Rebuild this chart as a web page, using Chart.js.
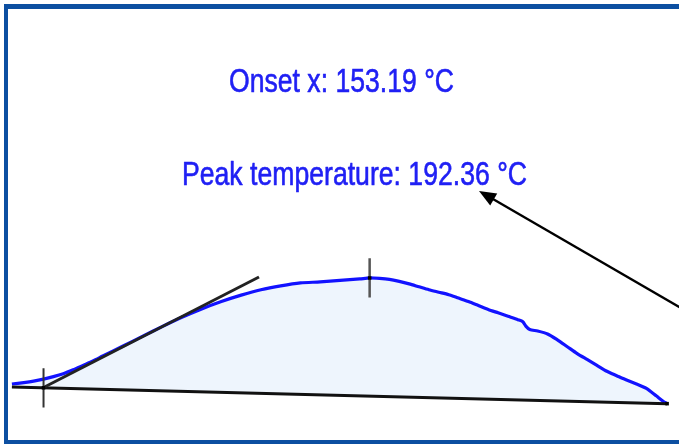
<!DOCTYPE html>
<html>
<head>
<meta charset="utf-8">
<script src="https://cdn.jsdelivr.net/npm/chart.js@4/dist/chart.umd.min.js"></script>
<style>
  html, body { margin: 0; padding: 0; background: #ffffff; overflow: hidden; }
  #dsc { display: block; }
</style>
</head>
<body>
<canvas id="dsc" width="679" height="444"></canvas>
<script>
// DSC melting endotherm: temperature (°C) vs heat flow (mW)
const temperature = [149.39, 150.82, 152.00, 153.19, 154.38, 155.56, 156.75, 157.94, 159.13, 160.31,
  162.69, 165.06, 167.43, 169.81, 172.18, 174.55, 176.93, 179.30, 181.68, 184.05,
  186.43, 188.80, 191.17, 192.36, 193.55, 194.73, 195.92, 197.11, 198.29, 199.48,
  200.67, 201.86, 203.04, 204.23, 205.42, 206.60, 207.79, 208.98, 210.17, 210.76,
  211.12, 211.59, 212.54, 213.73, 214.91, 216.10, 217.29, 218.47, 219.66, 220.85,
  222.03, 223.22, 224.41, 225.60, 226.78, 227.61, 228.09];
const heatFlow = [0.570, 0.585, 0.600, 0.620, 0.645, 0.675, 0.715, 0.760, 0.805, 0.855,
  0.955, 1.055, 1.155, 1.250, 1.335, 1.410, 1.475, 1.530, 1.570, 1.600,
  1.610, 1.625, 1.640, 1.650, 1.645, 1.635, 1.615, 1.590, 1.560, 1.530,
  1.505, 1.480, 1.445, 1.410, 1.370, 1.330, 1.295, 1.260, 1.225, 1.205,
  1.160, 1.125, 1.110, 1.080, 1.020, 0.950, 0.880, 0.820, 0.760, 0.700,
  0.655, 0.610, 0.570, 0.525, 0.450, 0.395, 0.370];

// integration baseline end points
const baselineT = [149.39, 228.09];
const baselineHF = [0.540, 0.370];

// evaluated results
const onsetT = 153.19;
const peakT = 192.36;
const peakHF = 1.650;

// onset tangent (inflection tangent on the leading edge)
const tangentT = [153.19, 179.07];
const tangentHF = [0.535, 1.660];

// axis ranges
const tRange = [148.442, 229.037];
const hfRange = [0, 4.44];

const labels = ['Onset x: ' + onsetT.toFixed(2) + ' °C', 'Peak temperature: ' + peakT.toFixed(2) + ' °C'];

const zip = (xs, ys) => xs.map((x, i) => ({ x: x, y: ys[i] }));
const baseAt = t => baselineHF[0] + (t - baselineT[0]) / (baselineT[1] - baselineT[0]) * (baselineHF[1] - baselineHF[0]);
const onsetHF = baseAt(onsetT);

// panel frame: open on the right-hand side
const panelFrame = {
  id: 'panelFrame',
  afterDraw(chart) {
    const ctx = chart.ctx;
    const W = chart.width, H = chart.height;
    ctx.save();
    ctx.fillStyle = '#0c4fa1';
    ctx.fillRect(4, 4, W - 4, 5);      // top
    ctx.fillRect(4, 4, 4, H - 4);      // left
    ctx.fillRect(4, H - 4, W - 4, 4);  // bottom
    ctx.restore();
  }
};

const annotations = {
  id: 'dscAnnotations',
  afterDatasetsDraw(chart) {
    const ctx = chart.ctx;
    ctx.save();
    ctx.fillStyle = '#2020f4';
    ctx.strokeStyle = '#2020f4';
    ctx.lineWidth = 0.6;
    ctx.lineJoin = 'round';
    ctx.textAlign = 'left';
    ctx.textBaseline = 'alphabetic';
    ctx.font = '33px "Liberation Sans", Arial, sans-serif';
    const texts = [
      { s: labels[0], left: 229, right: 454, base: 91.5 },
      { s: labels[1], left: 182, right: 527, base: 185 }
    ];
    texts.forEach(t => {
      const w = ctx.measureText(t.s).width;
      ctx.save();
      ctx.translate(t.left, t.base);
      ctx.scale((t.right - t.left) / w, 1);
      ctx.fillText(t.s, 0, 0);
      ctx.strokeText(t.s, 0, 0);
      ctx.restore();
    });

    // arrow pointing at the peak temperature label
    const tip = { x: 479, y: 191 };
    const tail = { x: 700, y: 319 };
    const ang = Math.atan2(tail.y - tip.y, tail.x - tip.x);
    const headLen = 17, headHalf = 7;
    ctx.strokeStyle = '#000000';
    ctx.lineWidth = 2.4;
    ctx.beginPath();
    ctx.moveTo(tail.x, tail.y);
    ctx.lineTo(tip.x + Math.cos(ang) * headLen * 0.8, tip.y + Math.sin(ang) * headLen * 0.8);
    ctx.stroke();
    const bx = tip.x + Math.cos(ang) * headLen, by = tip.y + Math.sin(ang) * headLen;
    ctx.fillStyle = '#000000';
    ctx.beginPath();
    ctx.moveTo(tip.x, tip.y);
    ctx.lineTo(bx - Math.sin(ang) * headHalf, by + Math.cos(ang) * headHalf);
    ctx.lineTo(bx + Math.sin(ang) * headHalf, by - Math.cos(ang) * headHalf);
    ctx.closePath();
    ctx.fill();
    ctx.restore();
  }
};

new Chart(document.getElementById('dsc'), {
  type: 'line',
  data: {
    datasets: [
      {
        label: 'Heat flow',
        data: zip(temperature, heatFlow),
        borderColor: '#1212ff',
        borderWidth: 3.2,
        pointRadius: 0,
        tension: 0.25,
        fill: { target: 1 },
        backgroundColor: '#eef5fd',
        order: 5
      },
      {
        label: 'Baseline',
        data: zip(baselineT, baselineHF),
        borderColor: '#111111',
        borderWidth: 3,
        pointRadius: 0,
        fill: false,
        order: 3
      },
      {
        label: 'Tangent',
        data: zip(tangentT, tangentHF),
        borderColor: '#222222',
        borderWidth: 3,
        pointRadius: 0,
        fill: false,
        order: 2
      },
      {
        label: 'Onset mark',
        data: [{ x: onsetT, y: onsetHF + 0.2 }, { x: onsetT, y: onsetHF - 0.2 }],
        borderColor: '#333333',
        borderWidth: 2,
        pointRadius: 0,
        fill: false,
        order: 1
      },
      {
        label: 'Peak mark',
        data: [{ x: peakT, y: peakHF + 0.2 }, { x: peakT, y: peakHF - 0.2 }],
        borderColor: '#555555',
        borderWidth: 2.5,
        pointRadius: 0,
        fill: false,
        order: 1
      },
      {
        label: 'Points',
        data: [{ x: onsetT, y: onsetHF }, { x: peakT, y: peakHF }, { x: baselineT[1], y: baselineHF[1] }],
        showLine: false,
        pointStyle: 'rect',
        pointRadius: 2.5,
        pointBackgroundColor: '#000000',
        pointBorderColor: '#000000',
        pointBorderWidth: 0,
        fill: false,
        order: 0
      }
    ]
  },
  options: {
    responsive: false,
    animation: false,
    devicePixelRatio: 1,
    layout: { padding: 0 },
    scales: {
      x: { type: 'linear', display: false, min: tRange[0], max: tRange[1] },
      y: { type: 'linear', display: false, min: hfRange[0], max: hfRange[1] }
    },
    plugins: {
      legend: { display: false },
      tooltip: { enabled: false },
      filler: { propagate: false }
    }
  },
  plugins: [annotations, panelFrame]
});
</script>
</body>
</html>
